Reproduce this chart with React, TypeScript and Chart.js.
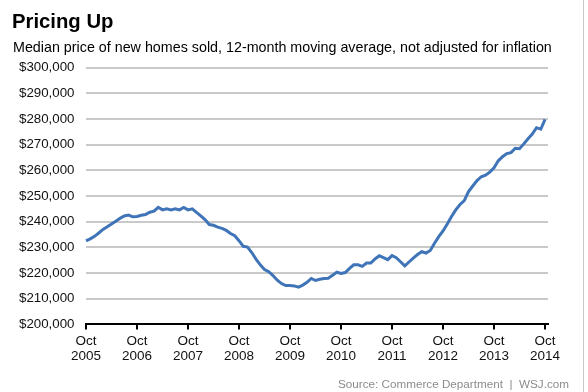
import React, { useEffect, useRef } from "react";
import { Chart, registerables } from "chart.js";

Chart.register(...registerables);

// Monthly 12-month moving average of median new-home price (thousands of $), Oct 2005 .. Oct 2014
const prices: number[] = [
  232.5, 233.3, 234.3, 235.6, 237.0, 238.0, 239.1, 240.2, 241.3, 242.2, 242.6, 241.9,
  242.0, 242.5, 242.8, 243.7, 244.1, 245.6, 244.6, 245.0, 244.6, 245.0, 244.6, 245.5,
  244.6, 245.0, 243.6, 242.3, 240.8, 238.9, 238.6, 237.9, 237.4, 236.6, 235.4, 234.5,
  232.6, 230.4, 230.1, 228.0, 225.4, 223.2, 221.4, 220.5, 219.0, 217.2, 215.9, 215.1,
  215.1, 215.0, 214.5, 215.3, 216.4, 217.9, 217.1, 217.6, 217.9, 218.0, 219.1, 220.3,
  219.8, 220.2, 221.8, 223.2, 223.2, 222.6, 223.9, 223.9, 225.5, 226.7, 226.0, 225.2,
  226.8, 226.0, 224.4, 222.8, 224.3, 225.8, 227.2, 228.3, 227.8, 228.8, 231.6, 234.2,
  236.4, 239.1, 242.0, 244.6, 246.7, 248.2, 251.7, 253.9, 256.0, 257.5, 258.1, 259.3,
  261.0, 263.7, 265.3, 266.5, 266.9, 268.6, 268.4, 270.3, 272.3, 274.1, 276.6, 276.0,
  279.8,
];

const tickMonths: number[] = [0, 12, 24, 36, 48, 60, 72, 84, 96, 108];
const tickLabels: string[][] = [
  ["Oct", "2005"], ["Oct", "2006"], ["Oct", "2007"], ["Oct", "2008"], ["Oct", "2009"],
  ["Oct", "2010"], ["Oct", "2011"], ["Oct", "2012"], ["Oct", "2013"], ["Oct", "2014"],
];
const yMin = 200000;
const yMax = 300000;
const yStep = 10000;

const title = "Pricing Up";
const subtitle = "Median price of new homes sold, 12-month moving average, not adjusted for inflation";
const source = "Source: Commerce Department  |  WSJ.com";

const FONT = "'Liberation Sans', Arial, Helvetica, sans-serif";

export default function App() {
  const ref = useRef<HTMLCanvasElement | null>(null);

  useEffect(() => {
    if (!ref.current) return;
    const points = prices.map((v, i) => ({ x: i, y: v * 1000 }));
    const chart = new Chart(ref.current, {
      type: "line",
      data: {
        datasets: [
          {
            data: points,
            borderColor: "#3f74b8",
            borderWidth: 3,
            pointRadius: 0,
            tension: 0,
            fill: false,
            clip: false as any,
          },
        ],
      },
      options: {
        animation: false,
        responsive: false,
        devicePixelRatio: 1,
        layout: { padding: { left: 0, right: 40, top: 67.6, bottom: 0 } },
        plugins: { legend: { display: false }, tooltip: { enabled: false } },
        scales: {
          x: {
            type: "linear",
            min: 0,
            max: 108.7,
            afterFit: (s: any) => {
              s.height = 392 - 324.4;
            },
            afterBuildTicks: (s: any) => {
              s.ticks = tickMonths.map((v) => ({ value: v }));
            },
            grid: {
              display: true,
              drawOnChartArea: false,
              drawTicks: true,
              tickLength: 5,
              color: "#000",
              lineWidth: 2,
            },
            border: { display: true, color: "#000", width: 2 },
            ticks: {
              autoSkip: false,
              maxRotation: 0,
              padding: 4.5,
              color: "#111",
              font: { family: FONT, size: 13.5, lineHeight: 1.1 },
              callback: (v: any) => {
                const idx = tickMonths.indexOf(Number(v));
                return idx >= 0 ? tickLabels[idx] : "";
              },
            },
          },
          y: {
            min: yMin,
            max: yMax,
            afterFit: (s: any) => {
              s.width = 86;
            },
            grid: {
              drawTicks: false,
              lineWidth: 2,
              color: (ctx: any) => (ctx.tick && ctx.tick.value === yMin ? "rgba(0,0,0,0)" : "#c9c9c9"),
            },
            border: { display: false },
            ticks: {
              stepSize: yStep,
              padding: 11.5,
              color: "#111",
              font: { family: FONT, size: 13.3 },
              callback: (v: any) => "$" + Number(v).toLocaleString("en-US"),
            },
          },
        },
      },
    });
    return () => chart.destroy();
  }, []);

  return (
    <div
      style={{
        position: "fixed",
        left: 0,
        top: 0,
        width: 588,
        height: 392,
        background: "#fff",
        fontFamily: FONT,
        overflow: "hidden",
      }}
    >
      <canvas ref={ref} width={588} height={392} style={{ position: "absolute", left: 0, top: 0 }} />
      <div
        style={{
          position: "absolute",
          left: 12,
          top: 9,
          fontSize: 20.3,
          fontWeight: "bold",
          color: "#000",
          lineHeight: "24px",
          whiteSpace: "nowrap",
        }}
      >
        {title}
      </div>
      <div
        style={{
          position: "absolute",
          left: 13,
          top: 39,
          fontSize: 14.3,
          color: "#000",
          lineHeight: "16px",
          whiteSpace: "nowrap",
        }}
      >
        {subtitle}
      </div>
      <div
        style={{
          position: "absolute",
          right: 19,
          top: 377,
          fontSize: 11.7,
          color: "#8c8c8c",
          lineHeight: "14px",
          whiteSpace: "pre",
        }}
      >
        {source}
      </div>
      <div
        style={{
          position: "absolute",
          left: 583,
          top: 0,
          width: 1,
          height: 392,
          background: "#c8c8c8",
        }}
      />
    </div>
  );
}
